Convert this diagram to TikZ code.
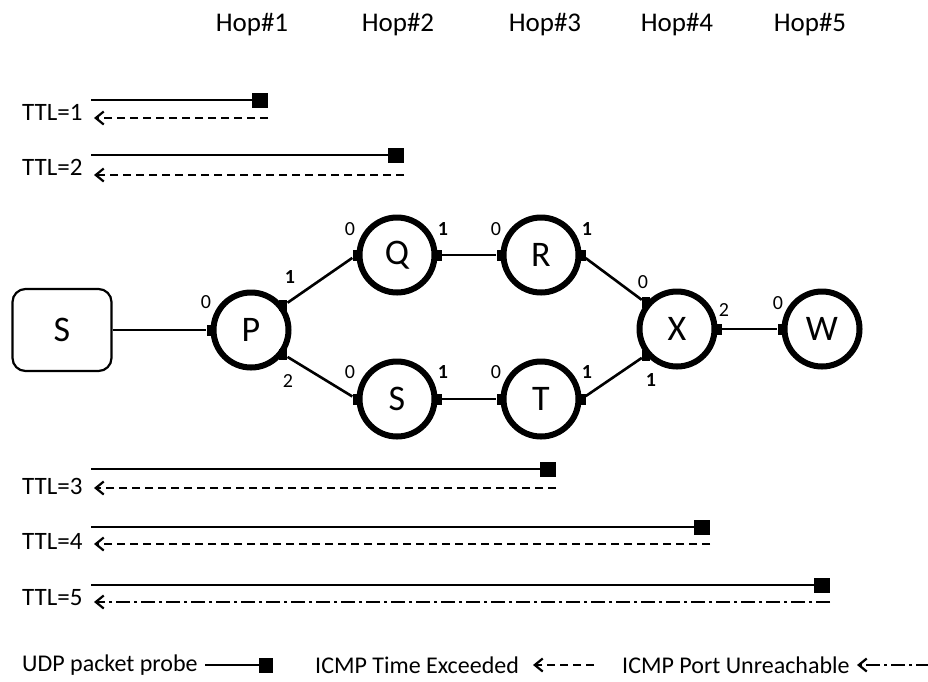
\documentclass[tikz,border=0pt]{standalone}
\usepackage{fontspec}
\setmainfont{Carlito}
\usetikzlibrary{arrows.meta}
\begin{document}
\begin{tikzpicture}[x=1pt,y=-1pt,
  router/.style={circle, draw, line width=6pt, minimum size=75pt, inner sep=0pt,
    font=\fontsize{36}{42}\selectfont},
  host/.style={rectangle, rounded corners=13pt, draw, line width=2.2pt,
    minimum width=99pt, minimum height=82pt, font=\fontsize{36}{42}\selectfont},
  port/.style={rectangle, fill=black, minimum width=8pt, minimum height=11pt, inner sep=0pt},
  plabel/.style={font=\fontsize{20}{24}\selectfont, inner sep=0pt},
  blabel/.style={font=\fontsize{20}{24}\selectfont\bfseries, inner sep=0pt},
  link/.style={line width=2.6pt},
  probe/.style={line width=2.2pt},
  probeend/.style={rectangle, fill=black, minimum width=16pt, minimum height=15pt, inner sep=0pt},
  tip/.style={-{Straight Barb[length=8pt,width=13pt,line width=2.2pt]}},
  exceeded/.style={line width=2.2pt, dash pattern=on 8pt off 5pt, tip},
  unreach/.style={line width=2.2pt, dash pattern=on 14pt off 4pt on 3pt off 4pt, tip},
  txt/.style={font=\fontsize{25}{30}\selectfont, inner sep=0pt},
  hop/.style={font=\fontsize{27}{32}\selectfont, inner sep=0pt},
  legend/.style={font=\fontsize{24}{28}\selectfont, inner sep=0pt, anchor=west},
]
\useasboundingbox (0,0) rectangle (928,681);

% hop headings
\node[hop] (h1) at (252,25) {Hop\#1};
\node[hop] (h2) at (398,25) {Hop\#2};
\node[hop] (h3) at (545,25) {Hop\#3};
\node[hop] (h4) at (677,25) {Hop\#4};
\node[hop] (h5) at (810,25) {Hop\#5};

% network
\node[host] (src) at (62,330) {S};
\node[router] (P) at (251,330) {P};
\node[router] (Q) at (397,255) {Q};
\node[router] (R) at (541,255) {R};
\node[router] (S) at (397,399) {S};
\node[router] (T) at (541,399) {T};
\node[router] (X) at (677,329) {X};
\node[router] (W) at (822,329) {W};

% interfaces
\node[port] (p0) at (P.180) {};
\node[port] (p1) at (P.37) {};
\node[port] (p2) at (P.-37) {};
\node[port] (q0) at (Q.180) {};
\node[port] (q1) at (Q.0) {};
\node[port] (r0) at (R.180) {};
\node[port] (r1) at (R.0) {};
\node[port] (s0) at (S.180) {};
\node[port] (s1) at (S.0) {};
\node[port] (t0) at (T.180) {};
\node[port] (t1) at (T.0) {};
\node[port] (x0) at (X.140) {};
\node[port] (x1) at (X.-140) {};
\node[port] (x2) at (X.0) {};
\node[port] (w0) at (W.180) {};

% interface numbers
\node[plabel] (lp0) at (206,302) {0};
\node[blabel] (lp1) at (290,277) {1};
\node[plabel] (lp2) at (288,381) {2};
\node[plabel] (lq0) at (350,229) {0};
\node[blabel] (lq1) at (443,229) {1};
\node[plabel] (lr0) at (496,229) {0};
\node[blabel] (lr1) at (587,229) {1};
\node[plabel] (ls0) at (350,372) {0};
\node[blabel] (ls1) at (443,372) {1};
\node[plabel] (lt0) at (496,372) {0};
\node[blabel] (lt1) at (587,372) {1};
\node[plabel] (lx0) at (643,282) {0};
\node[blabel] (lx1) at (651,380) {1};
\node[plabel] (lx2) at (724,310) {2};
\node[plabel] (lw0) at (778,303) {0};

% links
\draw[link] (src.east) -- (p0);
\draw[link] (p1) -- (q0);
\draw[link] (p2) -- (s0);
\draw[link] (q1) -- (r0);
\draw[link] (s1) -- (t0);
\draw[link] (r1) -- (x0);
\draw[link] (t1) -- (x1);
\draw[link] (x2) -- (w0);

% probes: TTL label, outgoing probe, returned ICMP message
\foreach \n/\ys/\yd/\yl/\xe in {1/100/118/112/260, 2/155/175/167/396,
                                 3/469/488/486/548, 4/527/544/541/702,
                                 5/585/602/598/822}{
  \node[txt, anchor=west] (ttl\n) at (22,\yl) {TTL=\n};
  \coordinate (ps\n) at (91,\ys);
  \node[probeend] (pe\n) at (\xe,\ys) {};
  \coordinate (rs\n) at (\xe+8,\yd);
  \coordinate (re\n) at (94,\yd);
  \draw[probe] (ps\n) -- (pe\n);
}
\draw[exceeded] (rs1) -- (re1);
\draw[exceeded] (rs2) -- (re2);
\draw[exceeded] (rs3) -- (re3);
\draw[exceeded] (rs4) -- (re4);
\draw[unreach] (rs5) -- (re5);

% legend
\node[legend] (leg1) at (22,665) {UDP packet probe};
\coordinate (lg1a) at (205,665);
\node[probeend, minimum width=14pt] (lg1b) at (266,665) {};
\draw[probe] (lg1a) -- (lg1b);
\node[legend] (leg2) at (315,665) {ICMP Time Exceeded};
\coordinate (lg2a) at (594,665);
\coordinate (lg2b) at (533,665);
\draw[exceeded] (lg2a) -- (lg2b);
\node[legend] (leg3) at (622,665) {ICMP Port Unreachable};
\coordinate (lg3a) at (930,665);
\coordinate (lg3b) at (857,665);
\draw[unreach] (lg3a) -- (lg3b);
\end{tikzpicture}
\end{document}
